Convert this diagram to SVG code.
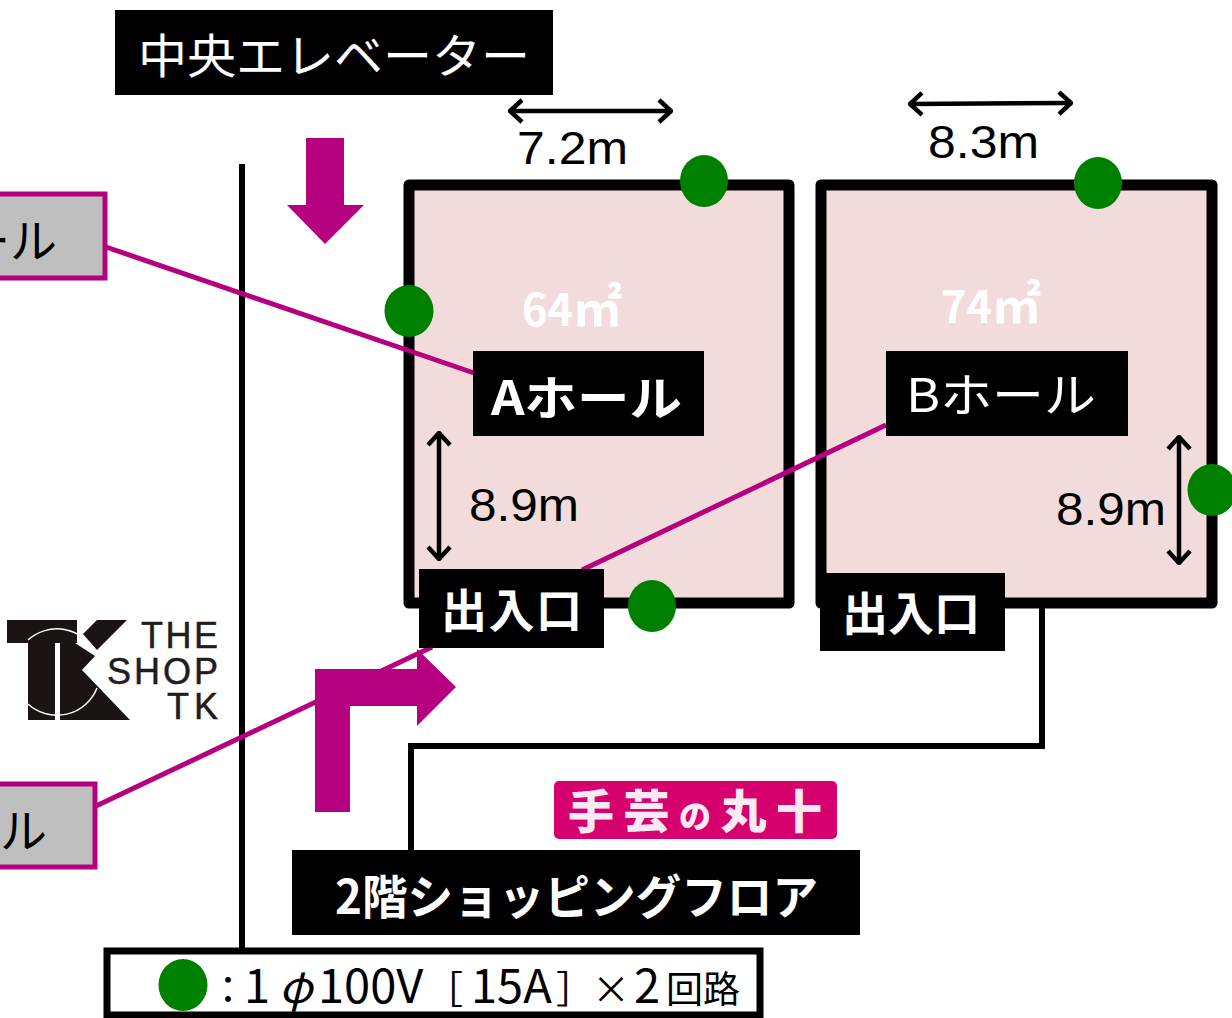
<svg xmlns="http://www.w3.org/2000/svg" width="1232" height="1018" viewBox="0 0 1232 1018">
<defs>
<style>
text{font-family:"Noto Sans CJK JP","Liberation Sans",sans-serif;}
.lab{fill:#fff;font-size:47px;}
.dim{fill:#000;font-family:"Liberation Sans",sans-serif;font-size:46px;}
.area{fill:#fff;font-size:44px;font-weight:bold;}
.hall{fill:#f2dcdb;stroke:#000;stroke-width:11;stroke-linejoin:round;}
.blk{fill:#000;}
.gry{fill:#bfbfbf;stroke:#b5007f;stroke-width:5;}
.dot{fill:#008000;}
.mag{fill:#b5007f;}
.pl{stroke:#b5007f;stroke-width:5;fill:none;}
.bl{stroke:#000;stroke-width:6;fill:none;}
.da{stroke:#000;stroke-width:4.500;fill:none;}
.logo{fill:#221c1c;font-size:36px;stroke:#221c1c;stroke-width:.5;}
</style>
<marker id="ah" viewBox="0 0 16 26" refX="14" refY="13" markerWidth="16" markerHeight="26" markerUnits="userSpaceOnUse" orient="auto-start-reverse"><path d="M2 2L14 13L2 24" fill="none" stroke="#000" stroke-width="4.500"/></marker>
</defs>
<rect width="1232" height="1018" fill="#fff"/>

<g id="hall-a"><rect class="hall" x="409" y="185" width="380" height="418"/><text class="area" x="522" y="326" textLength="100" lengthAdjust="spacingAndGlyphs">64<tspan font-size="50">㎡</tspan></text></g>
<g id="hall-b"><rect class="hall" x="821" y="185" width="391" height="418"/><text class="area" x="941" y="323" textLength="100" lengthAdjust="spacingAndGlyphs">74<tspan font-size="50">㎡</tspan></text></g>

<g id="connectors">
<line class="bl" x1="242" y1="164" x2="242" y2="950"/>
<line class="pl" x1="106" y1="247" x2="474" y2="373"/>
<line class="pl" x1="96" y1="806" x2="432" y2="647"/>
<line class="pl" x1="582" y1="570" x2="886" y2="425"/>
<path class="bl" d="M1042 606V746H411V850"/>
<line class="da" x1="510" y1="111" x2="671" y2="111" marker-start="url(#ah)" marker-end="url(#ah)"/>
<line class="da" x1="910" y1="104" x2="1071" y2="103" marker-start="url(#ah)" marker-end="url(#ah)"/>
<line class="da" x1="439" y1="433" x2="439" y2="559" marker-start="url(#ah)" marker-end="url(#ah)"/>
<line class="da" x1="1179" y1="437" x2="1179" y2="563" marker-start="url(#ah)" marker-end="url(#ah)"/>
</g>

<g id="arrow-down"><path class="mag" d="M306 138H344V205H364L325 244L287 205H306Z"/></g>
<g id="arrow-turn"><path class="mag" d="M315 812V669H417V649L456 687L417 726V706H350V812Z"/></g>

<g id="dots">
<ellipse class="dot" cx="704" cy="181" rx="24" ry="26"/>
<ellipse class="dot" cx="1098" cy="183" rx="24" ry="26"/>
<ellipse class="dot" cx="409" cy="311" rx="24.500" ry="26"/>
<ellipse class="dot" cx="1212" cy="490" rx="24.500" ry="26"/>
<ellipse class="dot" cx="652" cy="606" rx="24" ry="26"/>
</g>

<g id="elevator"><rect class="blk" x="115" y="10" width="438" height="85"/><text class="lab" x="138" y="73" textLength="392" lengthAdjust="spacingAndGlyphs">中央エレベーター</text></g>
<g id="dim-72"><text class="dim" x="517" y="164" textLength="111" lengthAdjust="spacingAndGlyphs">7.2m</text></g>
<g id="dim-83"><text class="dim" x="928" y="158" textLength="111" lengthAdjust="spacingAndGlyphs">8.3m</text></g>
<g id="dim-89a"><text class="dim" x="469" y="521" textLength="110" lengthAdjust="spacingAndGlyphs">8.9m</text></g>
<g id="dim-89b"><text class="dim" x="1056" y="525" textLength="110" lengthAdjust="spacingAndGlyphs">8.9m</text></g>

<g id="label-a"><rect class="blk" x="473" y="351" width="231" height="85"/><text class="lab" x="491" y="415" textLength="191" lengthAdjust="spacingAndGlyphs" font-weight="bold">Aホール</text></g>
<g id="label-b"><rect class="blk" x="886" y="351" width="242" height="85"/><text class="lab" x="906" y="412" textLength="190" lengthAdjust="spacingAndGlyphs">Bホール</text></g>
<g id="door-a"><rect class="blk" x="419" y="569" width="185" height="79"/><text class="lab" x="441" y="627" textLength="141" font-weight="bold" style="font-size:46px">出入口</text></g>
<g id="door-b"><rect class="blk" x="820" y="573" width="185" height="78"/><text class="lab" x="842" y="630" textLength="138" font-weight="bold" style="font-size:46px">出入口</text></g>

<g id="left-a"><rect class="gry" x="-10" y="194" width="115" height="84"/><text x="-37" y="258" font-size="47">ール</text></g>
<g id="left-b"><rect class="gry" x="-10" y="784" width="105" height="83"/><text x="0" y="848" font-size="47">ル</text></g>

<g id="logo-shop">
<path fill="#1a1414" d="M7 620H77V643H7Z"/>
<path fill="#1a1414" d="M28 643H55V720H28Z"/>
<path fill="#1a1414" d="M60 643H75L95 656L82 670L130 720H60Z"/>
<path fill="#1a1414" d="M83 634L97 620H127L97 650Z"/>
<path d="M28 640A43 43 0 0 1 95 652M97 688A43 43 0 0 1 28 704" fill="none" stroke="#fff" stroke-width="1.500"/>
<text class="logo" x="141" y="648" style="font-family:'Liberation Sans',sans-serif" textLength="77">THE</text>
<text class="logo" x="107" y="684" style="font-family:'Liberation Sans',sans-serif" textLength="111">SHOP</text>
<text class="logo" x="167" y="719" style="font-family:'Liberation Sans',sans-serif" textLength="51">TK</text>
</g>

<g id="logo-maruju"><rect x="554" y="781" width="283" height="58" rx="5" fill="#d6006e"/><text x="568" y="828" font-size="46" font-weight="900" fill="#fbeaf3" textLength="254">手芸<tspan font-size="32">の</tspan>丸十</text></g>

<g id="floor"><rect class="blk" x="292" y="850" width="568" height="85"/><text class="lab" x="335" y="914" textLength="483" lengthAdjust="spacingAndGlyphs" font-weight="bold">2階ショッピングフロア</text></g>

<g id="legend"><rect x="107" y="951" width="653" height="64" fill="#fff" stroke="#000" stroke-width="7"/><ellipse class="dot" cx="183" cy="985" rx="24.500" ry="26"/><text y="1003" font-size="47"><tspan x="209" font-size="38">：</tspan><tspan x="244">1</tspan><tspan x="279" font-style="italic" font-size="44">φ</tspan><tspan x="318">100V</tspan><tspan x="425" font-size="38">［</tspan><tspan x="471">15A</tspan><tspan x="556" font-size="38">］</tspan><tspan x="592" font-size="38">×</tspan><tspan x="634">2</tspan><tspan x="666" font-size="37">回路</tspan></text></g>
</svg>
